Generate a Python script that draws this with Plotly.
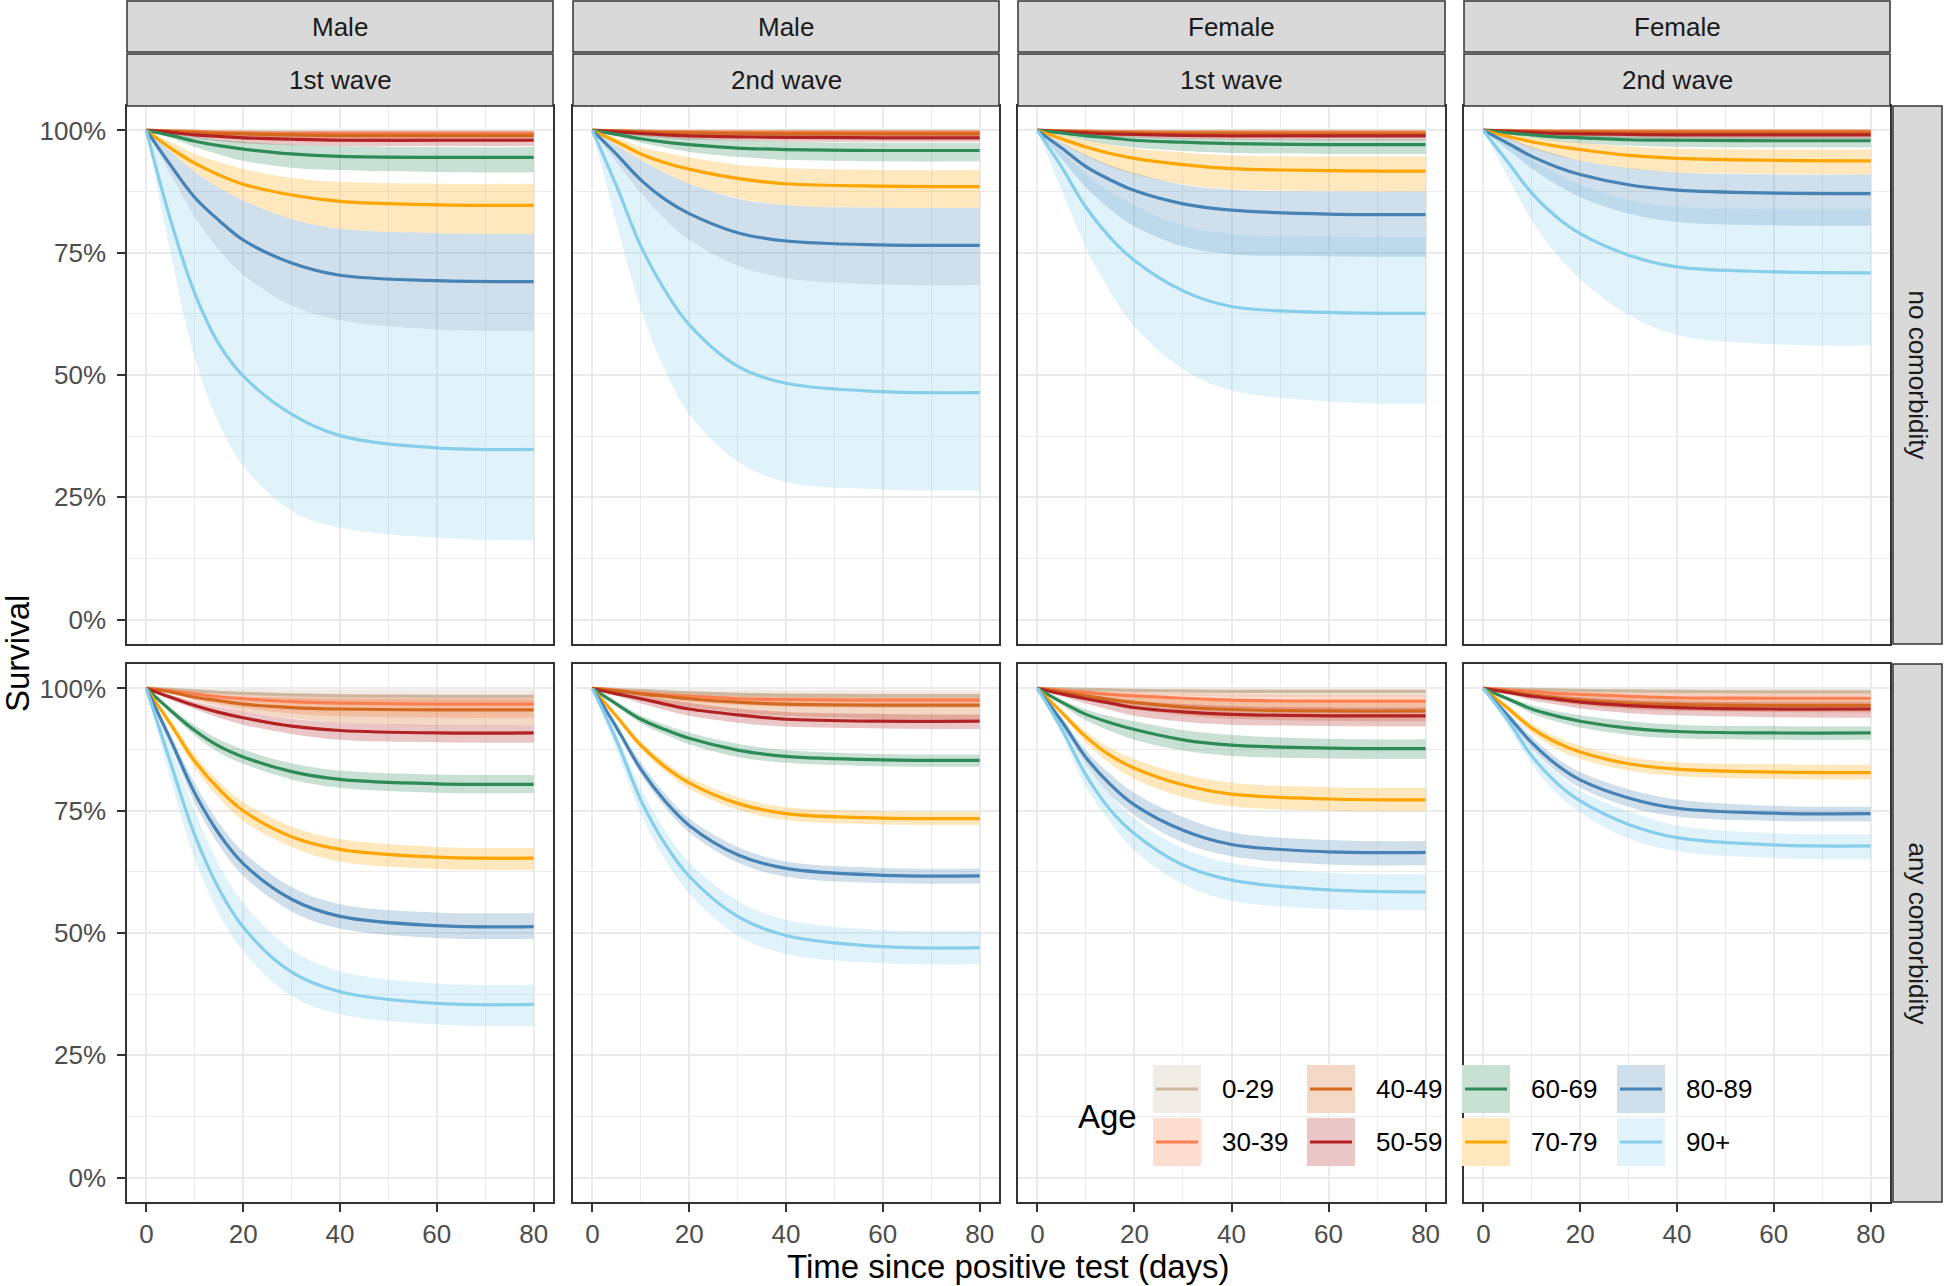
import plotly.graph_objects as go
from plotly.subplots import make_subplots

# ---- data (survival in %, at these days) ----
days = [0, 5, 10, 15, 20, 30, 40, 60, 80]
ages = ["0-29", "30-39", "40-49", "50-59", "60-69", "70-79", "80-89", "90+"]
age_colors = ["#CDB79E", "#FF7F50", "#D2691E", "#B22222",
              "#2E8B57", "#FFA500", "#4682B4", "#87CEEB"]
sex_labels = ["Male", "Male", "Female", "Female"]
wave_labels = ["1st wave", "2nd wave", "1st wave", "2nd wave"]
comorb_labels = ["no comorbidity", "any comorbidity"]
y_ticks = [0, 25, 50, 75, 100]
y_labels = ["0%", "25%", "50%", "75%", "100%"]
x_ticks = [0, 20, 40, 60, 80]

# Male, 1st wave, no comorbidity
m1_no_mid = {
    "0-29": [100, 99.9, 99.8, 99.7, 99.7, 99.6, 99.6, 99.6, 99.6],
    "30-39": [100, 99.9, 99.8, 99.6, 99.5, 99.4, 99.4, 99.4, 99.4],
    "40-49": [100, 99.8, 99.6, 99.4, 99.3, 99.1, 99.0, 99.0, 99.0],
    "50-59": [100, 99.6, 99.1, 98.8, 98.5, 98.2, 98.0, 98.0, 98.0],
    "60-69": [100, 99.0, 97.8, 96.9, 96.2, 95.2, 94.7, 94.5, 94.5],
    "70-79": [100, 96.4, 93.3, 90.9, 89.0, 86.8, 85.5, 84.8, 84.7],
    "80-89": [100, 92.9, 86.3, 81.6, 77.6, 72.9, 70.4, 69.3, 69.1],
    "90+": [100, 81.7, 66.7, 56.3, 49.8, 42.0, 37.6, 35.1, 34.8],
}
m1_no_lo = {
    "0-29": [100, 99.7, 99.4, 99.2, 99.0, 98.8, 98.7, 98.7, 98.7],
    "30-39": [100, 99.6, 99.2, 98.9, 98.7, 98.5, 98.4, 98.4, 98.4],
    "40-49": [100, 99.5, 99.1, 98.7, 98.4, 98.1, 97.9, 97.8, 97.8],
    "50-59": [100, 99.2, 98.4, 97.8, 97.4, 97.0, 96.8, 96.8, 96.8],
    "60-69": [100, 98.5, 96.6, 95.1, 93.8, 92.4, 91.9, 91.5, 91.4],
    "70-79": [100, 95.7, 91.5, 88.3, 85.7, 81.9, 79.9, 79.0, 78.9],
    "80-89": [100, 91.0, 82.3, 75.6, 70.5, 64.2, 61.2, 59.3, 59.0],
    "90+": [100, 74.9, 53.5, 40.1, 31.5, 22.2, 18.8, 16.7, 16.2],
}
m1_no_hi = {
    "0-29": [100, 100, 99.9, 99.9, 99.9, 99.9, 99.9, 99.9, 99.9],
    "30-39": [100, 100, 99.9, 99.9, 99.9, 99.9, 99.9, 99.9, 99.9],
    "40-49": [100, 99.9, 99.9, 99.8, 99.8, 99.7, 99.7, 99.7, 99.7],
    "50-59": [100, 99.8, 99.6, 99.4, 99.3, 99.1, 99.0, 98.9, 98.9],
    "60-69": [100, 99.5, 98.7, 98.1, 97.7, 97.1, 96.8, 96.6, 96.6],
    "70-79": [100, 97.7, 95.2, 93.6, 92.1, 90.3, 89.5, 89.1, 89.1],
    "80-89": [100, 95.7, 91.5, 88.3, 85.7, 81.9, 79.9, 79.0, 78.9],
    "90+": [100, 91.0, 82.3, 75.6, 70.5, 64.2, 61.2, 59.3, 59.0],
}

# Male, 2nd wave, no comorbidity
m2_no_mid = {
    "0-29": [100, 99.9, 99.9, 99.8, 99.8, 99.8, 99.8, 99.8, 99.8],
    "30-39": [100, 99.9, 99.8, 99.7, 99.7, 99.6, 99.6, 99.6, 99.6],
    "40-49": [100, 99.9, 99.7, 99.6, 99.5, 99.4, 99.3, 99.3, 99.3],
    "50-59": [100, 99.7, 99.4, 99.1, 98.9, 98.7, 98.6, 98.5, 98.5],
    "60-69": [100, 99.2, 98.3, 97.6, 97.1, 96.4, 96.1, 95.9, 95.9],
    "70-79": [100, 97.7, 95.2, 93.4, 92.1, 90.2, 89.1, 88.6, 88.5],
    "80-89": [100, 95.1, 89.9, 85.9, 83.0, 79.1, 77.4, 76.6, 76.5],
    "90+": [100, 88.6, 76.4, 67.3, 60.3, 51.8, 48.3, 46.6, 46.4],
}
m2_no_lo = {
    "0-29": [100, 99.8, 99.6, 99.5, 99.4, 99.3, 99.3, 99.3, 99.3],
    "30-39": [100, 99.7, 99.4, 99.2, 99.1, 99.0, 98.9, 98.9, 98.9],
    "40-49": [100, 99.7, 99.3, 99.1, 98.9, 98.7, 98.6, 98.6, 98.6],
    "50-59": [100, 99.4, 98.8, 98.4, 98.1, 97.9, 97.7, 97.7, 97.7],
    "60-69": [100, 98.8, 97.5, 96.5, 95.6, 94.6, 94.0, 93.7, 93.7],
    "70-79": [100, 97.0, 93.9, 91.3, 89.1, 86.2, 84.7, 84.2, 84.2],
    "80-89": [100, 93.5, 87.2, 81.9, 77.6, 72.4, 69.8, 68.5, 68.4],
    "90+": [100, 81.0, 63.5, 51.0, 42.0, 32.4, 28.1, 26.6, 26.4],
}
m2_no_hi = {
    "0-29": [100, 100, 100, 100, 100, 100, 100, 100, 100],
    "30-39": [100, 100, 99.9, 99.9, 99.9, 99.9, 99.9, 99.9, 99.9],
    "40-49": [100, 100, 99.9, 99.9, 99.9, 99.8, 99.8, 99.8, 99.8],
    "50-59": [100, 99.9, 99.7, 99.6, 99.5, 99.4, 99.3, 99.3, 99.3],
    "60-69": [100, 99.6, 99.2, 98.8, 98.5, 98.0, 97.7, 97.5, 97.5],
    "70-79": [100, 98.5, 96.6, 95.5, 94.5, 93.0, 92.3, 91.9, 91.9],
    "80-89": [100, 97.0, 93.9, 91.3, 89.1, 86.1, 84.7, 84.2, 84.2],
    "90+": [100, 93.5, 87.2, 81.9, 77.6, 72.4, 69.8, 68.5, 68.4],
}

# Female, 1st wave, no comorbidity
f1_no_mid = {
    "0-29": [100, 99.9, 99.9, 99.8, 99.8, 99.8, 99.8, 99.8, 99.8],
    "30-39": [100, 99.9, 99.8, 99.7, 99.7, 99.6, 99.6, 99.6, 99.6],
    "40-49": [100, 99.9, 99.7, 99.6, 99.5, 99.4, 99.4, 99.3, 99.3],
    "50-59": [100, 99.7, 99.5, 99.3, 99.2, 99.0, 98.9, 98.9, 98.9],
    "60-69": [100, 99.5, 98.9, 98.5, 98.0, 97.6, 97.3, 97.1, 97.1],
    "70-79": [100, 98.3, 96.6, 95.3, 94.3, 93.0, 92.2, 91.8, 91.7],
    "80-89": [100, 96.4, 92.6, 89.9, 87.7, 85.0, 83.7, 82.9, 82.8],
    "90+": [100, 92.5, 84.3, 78.1, 73.4, 67.2, 64.0, 62.8, 62.6],
}
f1_no_lo = {
    "0-29": [100, 99.8, 99.7, 99.6, 99.5, 99.5, 99.4, 99.4, 99.4],
    "30-39": [100, 99.8, 99.5, 99.3, 99.2, 99.1, 99.0, 99.0, 99.0],
    "40-49": [100, 99.7, 99.4, 99.1, 99.0, 98.8, 98.7, 98.7, 98.7],
    "50-59": [100, 99.5, 99.0, 98.7, 98.5, 98.2, 98.1, 98.0, 98.0],
    "60-69": [100, 99.0, 97.9, 97.1, 96.5, 95.8, 95.4, 95.2, 95.2],
    "70-79": [100, 97.4, 94.7, 92.6, 91.0, 89.0, 88.0, 87.6, 87.5],
    "80-89": [100, 94.2, 88.4, 83.9, 80.4, 76.3, 74.7, 74.3, 74.2],
    "90+": [100, 87.8, 76.0, 67.0, 59.9, 51.2, 46.9, 44.6, 44.1],
}
f1_no_hi = {
    "0-29": [100, 100, 100, 100, 100, 100, 100, 100, 100],
    "30-39": [100, 100, 99.9, 99.9, 99.9, 99.9, 99.9, 99.9, 99.9],
    "40-49": [100, 100, 99.9, 99.9, 99.9, 99.8, 99.8, 99.8, 99.8],
    "50-59": [100, 99.9, 99.8, 99.7, 99.6, 99.5, 99.5, 99.5, 99.5],
    "60-69": [100, 99.7, 99.4, 99.0, 98.8, 98.5, 98.3, 98.2, 98.2],
    "70-79": [100, 99.0, 98.0, 97.1, 96.3, 95.5, 94.9, 94.7, 94.7],
    "80-89": [100, 97.5, 95.0, 92.9, 91.3, 88.9, 87.9, 87.5, 87.5],
    "90+": [100, 95.6, 91.1, 87.4, 84.6, 80.5, 78.8, 78.3, 78.2],
}

# Female, 2nd wave, no comorbidity
f2_no_mid = {
    "0-29": [100, 100, 99.9, 99.9, 99.9, 99.9, 99.9, 99.9, 99.9],
    "30-39": [100, 99.9, 99.9, 99.8, 99.8, 99.8, 99.8, 99.8, 99.8],
    "40-49": [100, 99.9, 99.8, 99.7, 99.7, 99.6, 99.6, 99.6, 99.6],
    "50-59": [100, 99.8, 99.6, 99.4, 99.3, 99.2, 99.1, 99.1, 99.1],
    "60-69": [100, 99.5, 99.1, 98.7, 98.5, 98.1, 98.0, 97.9, 97.9],
    "70-79": [100, 98.8, 97.7, 96.8, 96.1, 94.9, 94.3, 93.9, 93.8],
    "80-89": [100, 97.4, 94.7, 92.6, 91.0, 88.9, 87.8, 87.2, 87.1],
    "90+": [100, 93.6, 87.2, 82.4, 78.9, 74.5, 72.1, 71.1, 70.9],
}
f2_no_lo = {
    "0-29": [100, 99.9, 99.8, 99.7, 99.7, 99.6, 99.6, 99.6, 99.6],
    "30-39": [100, 99.8, 99.6, 99.5, 99.4, 99.3, 99.3, 99.3, 99.3],
    "40-49": [100, 99.8, 99.5, 99.3, 99.2, 99.0, 99.0, 98.9, 98.9],
    "50-59": [100, 99.6, 99.2, 98.8, 98.6, 98.4, 98.3, 98.2, 98.2],
    "60-69": [100, 99.2, 98.4, 97.8, 97.4, 96.9, 96.6, 96.5, 96.5],
    "70-79": [100, 98.2, 96.3, 94.9, 93.8, 92.2, 91.4, 91.1, 91.0],
    "80-89": [100, 96.1, 92.2, 89.0, 86.4, 83.0, 81.3, 80.6, 80.5],
    "90+": [100, 90.6, 81.6, 74.8, 69.6, 62.3, 58.2, 56.3, 56.0],
}
f2_no_hi = {
    "0-29": [100, 100, 100, 100, 100, 100, 100, 100, 100],
    "30-39": [100, 100, 100, 99.9, 99.9, 99.9, 99.9, 99.9, 99.9],
    "40-49": [100, 100, 99.9, 99.9, 99.9, 99.9, 99.9, 99.9, 99.9],
    "50-59": [100, 99.9, 99.8, 99.7, 99.7, 99.6, 99.6, 99.6, 99.6],
    "60-69": [100, 99.8, 99.5, 99.3, 99.2, 98.9, 98.8, 98.7, 98.7],
    "70-79": [100, 99.3, 98.5, 97.9, 97.5, 96.7, 96.3, 96.1, 96.1],
    "80-89": [100, 98.6, 96.6, 95.2, 93.8, 92.3, 91.4, 91.0, 91.0],
    "90+": [100, 97.1, 94.0, 91.2, 88.9, 85.8, 84.4, 83.9, 83.9],
}

# Male, 1st wave, any comorbidity
m1_any_mid = {
    "0-29": [100, 99.8, 99.5, 99.2, 99.0, 98.7, 98.5, 98.4, 98.4],
    "30-39": [100, 99.5, 98.9, 98.3, 97.9, 97.3, 97.0, 96.8, 96.8],
    "40-49": [100, 99.3, 98.2, 97.5, 96.8, 96.1, 95.8, 95.6, 95.6],
    "50-59": [100, 98.2, 96.5, 95.1, 94.0, 92.3, 91.4, 90.9, 90.9],
    "60-69": [100, 95.5, 91.4, 88.2, 86.0, 83.0, 81.4, 80.5, 80.4],
    "70-79": [100, 92.7, 85.1, 79.4, 75.0, 69.7, 67.1, 65.5, 65.3],
    "80-89": [100, 89.5, 78.6, 70.3, 64.2, 56.9, 53.4, 51.5, 51.3],
    "90+": [100, 84.8, 70.0, 59.0, 51.2, 42.0, 38.0, 35.6, 35.4],
}
m1_any_lo = {
    "0-29": [100, 99.5, 98.8, 98.2, 97.7, 97.1, 96.8, 96.6, 96.6],
    "30-39": [100, 99.0, 97.8, 96.8, 96.0, 94.9, 94.3, 94.0, 94.0],
    "40-49": [100, 98.9, 97.5, 96.3, 95.3, 93.9, 93.0, 92.4, 92.3],
    "50-59": [100, 97.7, 95.8, 94.0, 92.6, 90.7, 89.5, 89.0, 88.9],
    "60-69": [100, 95.0, 90.4, 86.9, 84.6, 81.4, 79.7, 78.7, 78.6],
    "70-79": [100, 92.0, 83.7, 77.6, 72.9, 67.6, 64.6, 63.1, 62.9],
    "80-89": [100, 88.5, 76.6, 68.0, 61.7, 54.4, 50.9, 49.0, 48.8],
    "90+": [100, 81.4, 65.1, 54.0, 46.3, 37.1, 33.4, 31.3, 31.0],
}
m1_any_hi = {
    "0-29": [100, 100, 99.9, 99.9, 99.9, 99.8, 99.8, 99.8, 99.8],
    "30-39": [100, 99.8, 99.6, 99.3, 99.1, 98.8, 98.7, 98.6, 98.6],
    "40-49": [100, 99.6, 99.0, 98.6, 98.3, 98.1, 97.9, 97.9, 97.9],
    "50-59": [100, 98.7, 97.3, 96.2, 95.3, 93.8, 93.0, 92.5, 92.4],
    "60-69": [100, 96.1, 92.5, 89.6, 87.5, 84.7, 83.2, 82.4, 82.3],
    "70-79": [100, 93.5, 86.4, 81.0, 76.8, 71.8, 69.2, 67.6, 67.4],
    "80-89": [100, 90.5, 80.6, 72.5, 66.6, 59.4, 55.9, 54.2, 54.1],
    "90+": [100, 88.3, 74.9, 63.9, 56.2, 46.6, 42.2, 39.7, 39.4],
}

# Male, 2nd wave, any comorbidity
m2_any_mid = {
    "0-29": [100, 99.8, 99.6, 99.3, 99.1, 98.8, 98.6, 98.5, 98.5],
    "30-39": [100, 99.6, 99.1, 98.7, 98.4, 97.9, 97.7, 97.6, 97.6],
    "40-49": [100, 99.5, 98.9, 98.4, 97.9, 97.2, 96.8, 96.6, 96.6],
    "50-59": [100, 98.9, 97.9, 96.8, 95.8, 94.6, 93.7, 93.3, 93.3],
    "60-69": [100, 96.8, 93.7, 91.6, 89.8, 87.4, 86.1, 85.4, 85.3],
    "70-79": [100, 94.3, 88.4, 84.0, 80.7, 76.5, 74.4, 73.5, 73.4],
    "80-89": [100, 92.0, 83.5, 77.0, 72.0, 66.0, 63.2, 61.8, 61.7],
    "90+": [100, 89.4, 77.2, 68.2, 61.6, 53.4, 49.5, 47.2, 47.0],
}
m2_any_lo = {
    "0-29": [100, 99.6, 99.1, 98.7, 98.3, 97.8, 97.5, 97.4, 97.4],
    "30-39": [100, 99.3, 98.6, 97.9, 97.3, 96.6, 96.2, 96.0, 96.0],
    "40-49": [100, 99.1, 98.1, 97.1, 96.3, 95.1, 94.4, 93.8, 93.7],
    "50-59": [100, 98.5, 97.0, 95.6, 94.4, 93.0, 92.2, 91.8, 91.7],
    "60-69": [100, 96.4, 92.9, 90.6, 88.6, 86.0, 84.8, 84.1, 84.0],
    "70-79": [100, 93.8, 87.6, 83.0, 79.5, 75.2, 73.1, 72.2, 72.1],
    "80-89": [100, 91.4, 82.5, 75.7, 70.6, 64.4, 61.5, 60.2, 60.1],
    "90+": [100, 87.3, 74.4, 65.0, 58.1, 49.5, 45.7, 43.8, 43.6],
}
m2_any_hi = {
    "0-29": [100, 100, 99.9, 99.9, 99.8, 99.8, 99.7, 99.7, 99.7],
    "30-39": [100, 99.8, 99.6, 99.4, 99.3, 99.1, 99.0, 98.9, 98.9],
    "40-49": [100, 99.8, 99.5, 99.2, 98.9, 98.5, 98.3, 98.2, 98.2],
    "50-59": [100, 99.3, 98.6, 97.8, 97.1, 95.9, 95.2, 94.8, 94.7],
    "60-69": [100, 97.3, 94.5, 92.6, 91.0, 88.7, 87.4, 86.6, 86.5],
    "70-79": [100, 94.8, 89.2, 85.0, 81.9, 77.8, 75.7, 74.9, 74.8],
    "80-89": [100, 92.6, 84.9, 78.5, 73.4, 67.6, 64.6, 63.3, 63.2],
    "90+": [100, 90.8, 79.6, 71.0, 64.4, 56.6, 52.7, 50.6, 50.4],
}

# Female, 1st wave, any comorbidity
f1_any_mid = {
    "0-29": [100, 99.9, 99.8, 99.7, 99.6, 99.5, 99.4, 99.4, 99.4],
    "30-39": [100, 99.6, 99.2, 98.8, 98.5, 98.0, 97.6, 97.4, 97.4],
    "40-49": [100, 99.3, 98.5, 97.7, 97.1, 96.2, 95.7, 95.4, 95.4],
    "50-59": [100, 98.9, 97.9, 97.0, 96.1, 95.2, 94.7, 94.4, 94.4],
    "60-69": [100, 97.2, 94.7, 93.0, 91.6, 89.5, 88.4, 87.8, 87.7],
    "70-79": [100, 95.1, 90.1, 86.3, 83.7, 80.3, 78.4, 77.4, 77.2],
    "80-89": [100, 93.3, 85.9, 80.4, 76.2, 71.0, 68.1, 66.6, 66.5],
    "90+": [100, 91.7, 82.3, 75.2, 70.3, 63.9, 60.8, 58.8, 58.4],
}
f1_any_lo = {
    "0-29": [100, 99.7, 99.3, 99.0, 98.8, 98.5, 98.3, 98.2, 98.2],
    "30-39": [100, 99.3, 98.5, 97.8, 97.2, 96.5, 96.0, 95.8, 95.8],
    "40-49": [100, 98.9, 97.7, 96.6, 95.7, 94.5, 93.8, 93.4, 93.3],
    "50-59": [100, 98.4, 96.9, 95.6, 94.4, 93.2, 92.6, 92.3, 92.2],
    "60-69": [100, 96.6, 93.5, 91.3, 89.5, 87.3, 86.2, 85.7, 85.6],
    "70-79": [100, 94.5, 88.9, 84.6, 81.5, 77.8, 75.9, 75.0, 74.9],
    "80-89": [100, 92.5, 84.5, 78.3, 74.1, 68.5, 65.7, 64.0, 63.9],
    "90+": [100, 90.7, 79.8, 72.7, 66.8, 60.0, 56.6, 54.9, 54.6],
}
f1_any_hi = {
    "0-29": [100, 100, 100, 99.9, 99.9, 99.9, 99.9, 99.9, 99.9],
    "30-39": [100, 99.8, 99.6, 99.4, 99.3, 99.1, 98.9, 98.8, 98.8],
    "40-49": [100, 99.6, 99.1, 98.6, 98.2, 97.7, 97.4, 97.2, 97.2],
    "50-59": [100, 99.3, 98.7, 98.1, 97.5, 96.8, 96.4, 96.1, 96.1],
    "60-69": [100, 97.7, 95.7, 94.3, 93.3, 91.5, 90.5, 89.7, 89.6],
    "70-79": [100, 95.6, 91.2, 87.8, 85.5, 82.5, 80.7, 79.8, 79.7],
    "80-89": [100, 94.0, 87.3, 82.5, 78.6, 73.7, 70.6, 69.0, 68.8],
    "90+": [100, 92.8, 84.4, 78.3, 73.4, 67.3, 64.3, 62.3, 62.0],
}

# Female, 2nd wave, any comorbidity
f2_any_mid = {
    "0-29": [100, 99.9, 99.8, 99.7, 99.6, 99.5, 99.4, 99.3, 99.3],
    "30-39": [100, 99.7, 99.4, 99.0, 98.8, 98.4, 98.1, 98.0, 98.0],
    "40-49": [100, 99.4, 98.7, 98.1, 97.6, 97.0, 96.7, 96.5, 96.5],
    "50-59": [100, 99.2, 98.4, 97.8, 97.2, 96.5, 96.1, 95.8, 95.8],
    "60-69": [100, 97.9, 95.8, 94.4, 93.3, 91.9, 91.2, 90.9, 90.9],
    "70-79": [100, 96.0, 91.9, 89.0, 87.0, 84.6, 83.5, 82.9, 82.8],
    "80-89": [100, 94.5, 88.9, 84.5, 81.3, 77.6, 75.5, 74.5, 74.4],
    "90+": [100, 93.6, 86.2, 80.8, 77.0, 72.2, 69.5, 68.0, 67.8],
}
f2_any_lo = {
    "0-29": [100, 99.7, 99.4, 99.1, 98.9, 98.6, 98.4, 98.3, 98.3],
    "30-39": [100, 99.5, 98.8, 98.2, 97.8, 97.2, 96.9, 96.7, 96.7],
    "40-49": [100, 99.1, 98.1, 97.3, 96.6, 95.8, 95.4, 95.2, 95.1],
    "50-59": [100, 98.8, 97.6, 96.7, 95.9, 95.0, 94.5, 94.1, 94.0],
    "60-69": [100, 97.5, 94.9, 93.3, 92.0, 90.5, 89.8, 89.5, 89.5],
    "70-79": [100, 95.4, 90.9, 87.7, 85.6, 83.2, 82.1, 81.5, 81.4],
    "80-89": [100, 93.8, 87.7, 83.1, 79.7, 75.8, 73.8, 72.9, 72.8],
    "90+": [100, 92.4, 84.5, 78.6, 74.6, 69.3, 66.7, 65.3, 65.1],
}
f2_any_hi = {
    "0-29": [100, 100, 99.9, 99.9, 99.9, 99.9, 99.9, 99.9, 99.9],
    "30-39": [100, 99.9, 99.7, 99.5, 99.4, 99.2, 99.1, 99.0, 99.0],
    "40-49": [100, 99.6, 99.2, 98.8, 98.5, 98.1, 97.9, 97.8, 97.8],
    "50-59": [100, 99.5, 99.0, 98.6, 98.2, 97.7, 97.4, 97.2, 97.2],
    "60-69": [100, 98.3, 96.6, 95.4, 94.5, 93.3, 92.6, 92.3, 92.2],
    "70-79": [100, 96.6, 92.8, 90.2, 88.3, 86.0, 84.9, 84.5, 84.4],
    "80-89": [100, 95.2, 90.1, 85.9, 82.9, 79.4, 77.3, 76.0, 75.8],
    "90+": [100, 94.6, 87.6, 82.8, 79.1, 74.9, 72.0, 70.4, 70.2],
}

panels = [
    (1, 1, m1_no_mid, m1_no_lo, m1_no_hi),
    (1, 2, m2_no_mid, m2_no_lo, m2_no_hi),
    (1, 3, f1_no_mid, f1_no_lo, f1_no_hi),
    (1, 4, f2_no_mid, f2_no_lo, f2_no_hi),
    (2, 1, m1_any_mid, m1_any_lo, m1_any_hi),
    (2, 2, m2_any_mid, m2_any_lo, m2_any_hi),
    (2, 3, f1_any_mid, f1_any_lo, f1_any_hi),
    (2, 4, f2_any_mid, f2_any_lo, f2_any_hi),
]

# ---- geometry (pixels) ----
W, H = 1944, 1286
FONT = "Liberation Sans, Arial, sans-serif"
ALPHA = 0.26
SMOOTH = 1.0
col_px = [(127, 553), (573, 999), (1018, 1445), (1464, 1890)]
row_px = [(106, 644), (664, 1202)]


def px(x):
    return x / W


def py(y):
    return 1 - y / H


def rgba(hexcol, a):
    h = hexcol.lstrip("#")
    r, g, b = int(h[0:2], 16), int(h[2:4], 16), int(h[4:6], 16)
    return f"rgba({r},{g},{b},{a})"


fig = make_subplots(rows=2, cols=4)

for r, c, mid, lo, hi in panels:
    # ribbons first, then lines
    for age, col in zip(ages, age_colors):
        fig.add_trace(go.Scatter(x=days, y=lo[age], mode="lines",
                                 line=dict(width=0, shape="spline", smoothing=SMOOTH, color=col),
                                 hoverinfo="skip", showlegend=False), row=r, col=c)
        fig.add_trace(go.Scatter(x=days, y=hi[age], mode="lines", fill="tonexty",
                                 fillcolor=rgba(col, ALPHA),
                                 line=dict(width=0, shape="spline", smoothing=SMOOTH, color=col),
                                 hoverinfo="skip", showlegend=False), row=r, col=c)
    for age, col in zip(ages, age_colors):
        fig.add_trace(go.Scatter(x=days, y=mid[age], mode="lines", name=age,
                                 line=dict(width=3.2, shape="spline", smoothing=SMOOTH, color=col),
                                 showlegend=False), row=r, col=c)

grid = "#EBEBEB"
border = "#333333"
for r in (1, 2):
    for c in (1, 2, 3, 4):
        x0, x1 = col_px[c - 1]
        y0, y1 = row_px[r - 1]
        fig.update_xaxes(domain=[px(x0), px(x1)], range=[-4, 84],
                         tickmode="array", tickvals=x_ticks,
                         showgrid=True, gridcolor=grid, gridwidth=2, zeroline=False,
                         minor=dict(tickmode="array", tickvals=[10, 30, 50, 70],
                                    showgrid=True, gridcolor=grid, gridwidth=1),
                         showline=True, mirror=True, linecolor=border, linewidth=1.5,
                         ticks="outside" if r == 2 else "", ticklen=8, tickwidth=2,
                         tickcolor=border, showticklabels=(r == 2),
                         tickfont=dict(family=FONT, size=26, color="#4D4D4D"),
                         row=r, col=c)
        fig.update_yaxes(domain=[py(y1), py(y0)], range=[-5, 105],
                         tickmode="array", tickvals=y_ticks, ticktext=y_labels,
                         showgrid=True, gridcolor=grid, gridwidth=2, zeroline=False,
                         minor=dict(tickmode="array", tickvals=[12.5, 37.5, 62.5, 87.5],
                                    showgrid=True, gridcolor=grid, gridwidth=1),
                         showline=True, mirror=True, linecolor=border, linewidth=1.5,
                         ticks="outside" if c == 1 else "", ticklen=8, tickwidth=2,
                         tickcolor=border, showticklabels=(c == 1),
                         ticklabelstandoff=6,
                         tickfont=dict(family=FONT, size=26, color="#4D4D4D"),
                         row=r, col=c)

shapes = []
annots = []
strip_fill = "#D9D9D9"

# top strips (sex / wave)
for i, (x0, x1) in enumerate(col_px):
    for (sy0, sy1), label in (((1, 52), sex_labels[i]), ((54, 106), wave_labels[i])):
        shapes.append(dict(type="rect", xref="paper", yref="paper",
                           x0=px(x0), x1=px(x1), y0=py(sy1), y1=py(sy0),
                           fillcolor=strip_fill, line=dict(color=border, width=1.5)))
        annots.append(dict(text=label, xref="paper", yref="paper",
                           x=px((x0 + x1) / 2), y=py((sy0 + sy1) / 2),
                           showarrow=False, xanchor="center", yanchor="middle",
                           font=dict(family=FONT, size=26, color="#1A1A1A")))

# right strips (comorbidity)
for j, (y0, y1) in enumerate(row_px):
    shapes.append(dict(type="rect", xref="paper", yref="paper",
                       x0=px(1893), x1=px(1942), y0=py(y1), y1=py(y0),
                       fillcolor=strip_fill, line=dict(color=border, width=1.5)))
    annots.append(dict(text=comorb_labels[j], xref="paper", yref="paper",
                       x=px(1917.5), y=py((y0 + y1) / 2), textangle=90,
                       showarrow=False, xanchor="center", yanchor="middle",
                       font=dict(family=FONT, size=26, color="#1A1A1A")))

# axis titles
annots.append(dict(text="Time since positive test (days)", xref="paper", yref="paper",
                   x=px(1008), y=py(1266), showarrow=False,
                   xanchor="center", yanchor="middle",
                   font=dict(family=FONT, size=33, color="#000000")))
annots.append(dict(text="Survival", xref="paper", yref="paper",
                   x=px(17), y=py(654), textangle=-90, showarrow=False,
                   xanchor="center", yanchor="middle",
                   font=dict(family=FONT, size=33, color="#000000")))

# legend drawn inside the lower panels
key_x = [1153, 1307, 1462, 1617]
key_y = [1065, 1118]
key = 48
annots.append(dict(text="Age", xref="paper", yref="paper",
                   x=px(1076), y=py(1116), showarrow=False,
                   xanchor="left", yanchor="middle",
                   font=dict(family=FONT, size=33, color="#000000")))
for i, (age, col) in enumerate(zip(ages, age_colors)):
    kx = key_x[i // 2]
    ky = key_y[i % 2]
    shapes.append(dict(type="rect", xref="paper", yref="paper",
                       x0=px(kx), x1=px(kx + key), y0=py(ky + key), y1=py(ky),
                       fillcolor="white", line=dict(width=0)))
    shapes.append(dict(type="rect", xref="paper", yref="paper",
                       x0=px(kx), x1=px(kx + key), y0=py(ky + key), y1=py(ky),
                       fillcolor=rgba(col, ALPHA), line=dict(width=0)))
    shapes.append(dict(type="line", xref="paper", yref="paper",
                       x0=px(kx + 3), x1=px(kx + key - 3),
                       y0=py(ky + key / 2), y1=py(ky + key / 2),
                       line=dict(color=col, width=3.2)))
    annots.append(dict(text=age, xref="paper", yref="paper",
                       x=px(kx + 67), y=py(ky + key / 2), showarrow=False,
                       xanchor="left", yanchor="middle",
                       font=dict(family=FONT, size=26, color="#000000")))

fig.update_layout(width=W, height=H, margin=dict(l=0, r=0, t=0, b=0),
                  paper_bgcolor="white", plot_bgcolor="white",
                  showlegend=False, shapes=shapes, annotations=annots,
                  font=dict(family=FONT))

# the page's default body margin would shift the whole figure by 8px
fig.write_html("out.html", config={"displayModeBar": False},
               post_script="document.body.style.margin='0px';")
